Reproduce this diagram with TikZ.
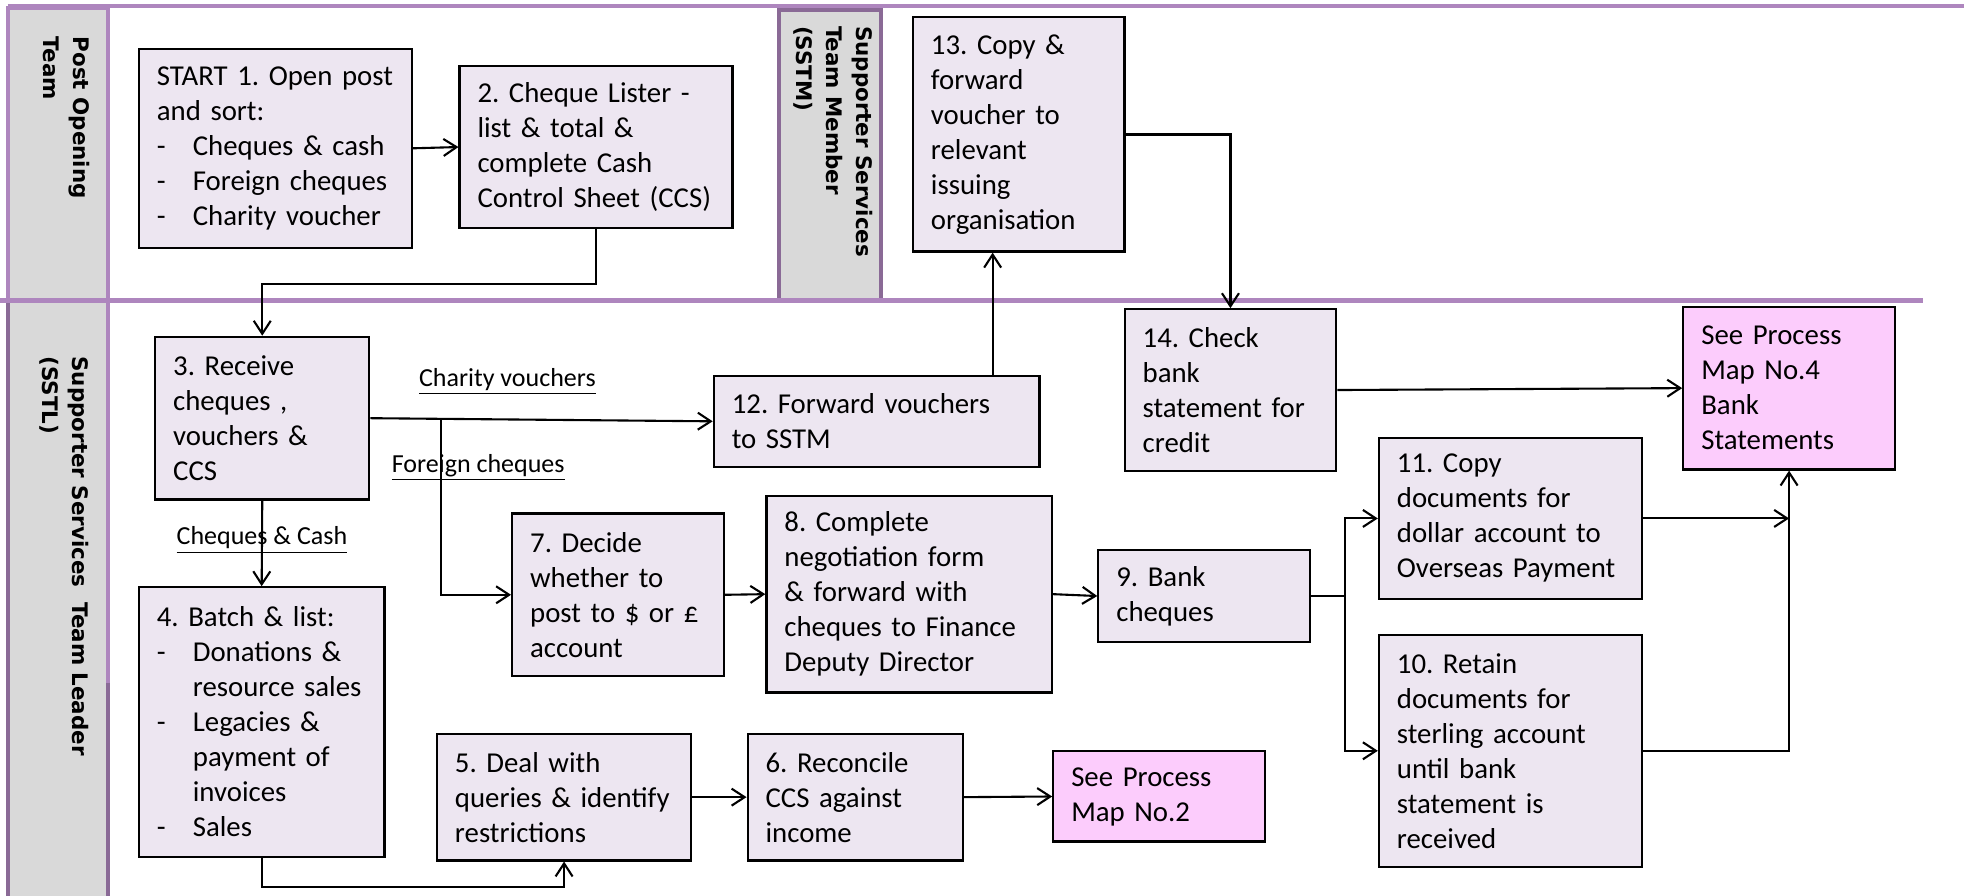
\documentclass[tikz,border=0pt]{standalone}
\usepackage{fontspec}
\setmainfont{Carlito}
\newfontfamily\lanefont{DejaVu Sans}
\usetikzlibrary{arrows.meta, calc}
\frenchspacing

\definecolor{lanepurple}{RGB}{174,134,190}
\definecolor{lanedark}{RGB}{138,106,150}
\definecolor{lanegray}{RGB}{217,217,217}
\definecolor{stepfill}{RGB}{237,230,241}
\definecolor{mapfill}{RGB}{252,204,252}

\newcommand{\itm}[1]{\makebox[18pt][l]{-}#1}
\newcommand{\ind}[1]{\hspace*{18pt}#1}

\tikzset{
  procbox/.style={draw, line width=1.1pt, fill=stepfill, anchor=north west, align=left,
    inner xsep=9pt, inner ysep=0pt, font=\fontsize{14.4}{17.5}\selectfont},
  mapbox/.style={procbox, fill=mapfill},
  lanehead/.style={rotate=-90, align=left, inner sep=0pt,
    font=\lanefont\bfseries\fontsize{10.7}{15}\selectfont},
  flowlbl/.style={inner sep=0pt, font=\fontsize{13}{15}\selectfont},
}

\begin{document}
\begin{tikzpicture}[x=0.6263pt, y=-0.6263pt, >={Straight Barb[length=6.5pt,width=8.5pt]}, line width=1.05pt]
    \useasboundingbox (0,0) rectangle (1568,715);

    \draw[lanepurple, line width=2pt, fill=lanegray] (6,6) rectangle (86,240);
    \draw[lanepurple, line width=2pt, fill=lanegray] (6,240) rectangle (86,720);
    \draw[lanedark, line width=2pt] (6,240) -- (6,720) (86,545) -- (86,720);
    \draw[lanedark, line width=2pt, fill=lanegray] (622,8) rectangle (703,240);
    \draw[lanepurple, line width=2pt] (6,5) -- (1568,5);
    \draw[lanepurple, line width=2.2pt] (0,240) -- (1535,240);

    \node[lanehead] (hpost) at (53,94) {Post Opening\\Team};
    \node[lanehead] (hsstm) at (665,113) {Supporter Services\\Team Member\\(SSTM)};
    \node[lanehead] (hsstl) at (51,444) {Supporter Services\ \ Team Leader\\(SSTL)};

    \node[procbox, text width=118.5pt, minimum height=99.6pt] (open) at (110,38)
        {START 1. Open post\\and sort:\\\itm{Cheques \& cash}\\\itm{Foreign cheques}\\\itm{Charity voucher}};
    \node[procbox, text width=118.5pt, minimum height=80.8pt] (lister) at (366,52)
        {2. Cheque Lister -\\list \& total \&\\complete Cash\\Control Sheet (CCS)};
    \node[procbox, text width=89.1pt, minimum height=81.4pt] (receive) at (123,268)
        {3. Receive\\cheques ,\\vouchers \&\\CCS};
    \node[procbox, text width=104.8pt, minimum height=134.7pt] (batch) at (110,468)
        {4. Batch \& list:\\\itm{Donations \&}\\\ind{resource sales}\\\itm{Legacies \&}\\\ind{payment of}\\\ind{invoices}\\\itm{Sales}};
    \node[procbox, text width=109.1pt, minimum height=63.3pt] (queries) at (348,585)
        {5. Deal with\\queries \& identify\\restrictions};
    \node[procbox, text width=89.7pt, minimum height=63.3pt] (reconcile) at (596,585)
        {6. Reconcile\\CCS against\\income};
    \node[mapbox, text width=87.8pt, minimum height=45.1pt] (maptwo) at (840,599)
        {See Process\\Map No.2};
    \node[procbox, text width=87.8pt, minimum height=81.4pt] (decide) at (408,409)
        {7. Decide\\whether to\\post to \$ or £\\account};
    \node[procbox, text width=124.8pt, minimum height=98.3pt] (negotiate) at (611,395)
        {8. Complete\\negotiation form\\\& forward with\\cheques to Finance\\Deputy Director};
    \node[procbox, text width=87.8pt, minimum height=46.3pt] (bank) at (876,438)
        {9. Bank\\cheques};
    \node[procbox, text width=113.5pt, minimum height=115.9pt] (retain) at (1100,506)
        {10. Retain\\documents for\\sterling account\\until bank\\statement is\\received};
    \node[procbox, text width=113.5pt, minimum height=80.2pt] (copydoc) at (1100,349)
        {11. Copy\\documents for\\dollar account to\\Overseas Payment};
    \node[procbox, text width=144.8pt, minimum height=45.7pt] (fwdsstm) at (569,299)
        {12. Forward vouchers\\to SSTM};
    \node[procbox, text width=87.8pt, minimum height=117.1pt] (issue) at (728,13)
        {13. Copy \&\\forward\\voucher to\\relevant\\issuing\\organisation};
    \node[procbox, text width=87.8pt, minimum height=80.8pt] (check) at (897,246)
        {14. Check\\bank\\statement for\\credit};
    \node[mapbox, text width=87.8pt, minimum height=81.4pt] (mapfour) at (1343,244)
        {See Process\\Map No.4\\Bank\\Statements};

    \draw[->] (open.east) -- (lister.west);
    \draw[->] (lister.south) -- ++(0,44) -| (receive.north);
    \draw[->] (receive.east) -- node[flowlbl, pos=0.40, yshift=18.8pt] (lcharity) {\underline{Charity vouchers}} (fwdsstm.west);
    \draw[->] (receive.east) ++(56,0) coordinate (fork) |- node[flowlbl, pos=0.14, xshift=18.8pt] (lforeign) {\underline{Foreign cheques}} (decide.west);
    \draw[->] (receive.south) -- node[flowlbl, pos=0.46] (lcash) {\underline{Cheques \& Cash}} (batch.north);
    \draw[->] (batch.south) -- ++(0,23) -| (queries.south);
    \draw[->] (queries.east) -- (reconcile.west);
    \draw[->] (reconcile.east) -- (maptwo.west);
    \draw[->] (decide.east) -- (negotiate.west);
    \draw[->] (negotiate.east) -- (bank.west);
    \draw[->] (bank.east) -- ++(27,0) coordinate (split) |- (copydoc.west);
    \draw[->] (split) |- (retain.west);
    \draw[->] (copydoc.east) -- (copydoc.east -| mapfour.south);
    \draw[->] (retain.east) -| (mapfour.south);
    \coordinate (up) at ($(fwdsstm.north west)!0.854!(fwdsstm.north east)$);
    \draw[->] (up) -- (up |- issue.south);
    \draw[->] (issue.east) -| (check.north);
    \draw[->] (check.east) -- (mapfour.west);
\end{tikzpicture}
\end{document}
